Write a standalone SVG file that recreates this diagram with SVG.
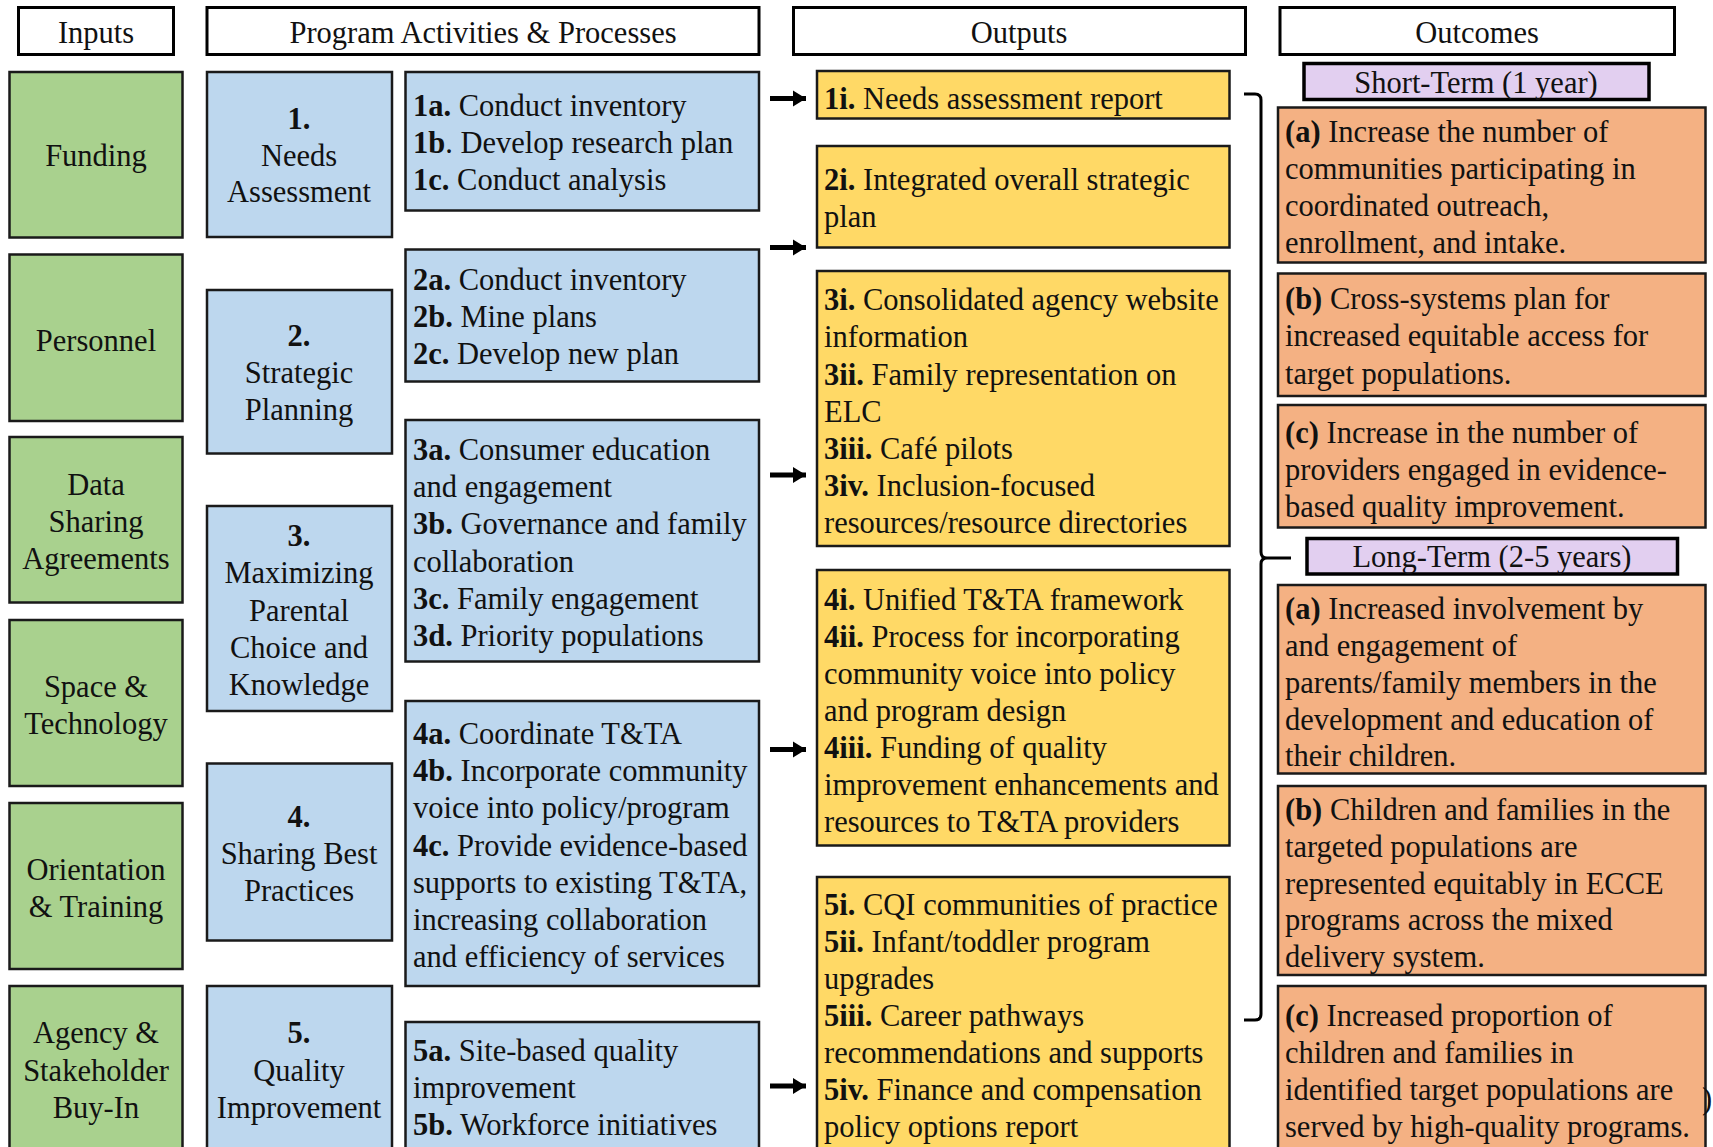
<svg xmlns="http://www.w3.org/2000/svg" width="1713" height="1147" viewBox="0 0 1713 1147">
<style>
.hdr{fill:#fff;stroke:#000;stroke-width:3}
.inp{fill:#A9D18E;stroke:#1a1a1a;stroke-width:2.5}
.act{fill:#BDD7EE;stroke:#1a1a1a;stroke-width:2.5}
.out{fill:#FFD966;stroke:#1a1a1a;stroke-width:2.5}
.oc{fill:#F4B183;stroke:#1a1a1a;stroke-width:2.5}
.term{fill:#E2CFF0;stroke:#000;stroke-width:3.5}
text{font-family:"Liberation Serif","Times New Roman",serif;font-size:30.5px;fill:#111;transform:translate(0px,2px)}
.c{text-anchor:middle}
.b{font-weight:bold}
.conn{fill:none;stroke:#000}
</style>
<defs>
<marker id="ah" markerUnits="userSpaceOnUse" markerWidth="16" markerHeight="18" refX="13" refY="9" orient="auto">
<path d="M0,1 L13,9 L0,17 Z" fill="#000"/>
</marker>
</defs>
<rect width="1713" height="1147" fill="#fff"/>

<!-- Headers -->
<g id="hdr-inputs"><rect class="hdr" x="18.5" y="7.5" width="155" height="47"/><text class="c" x="96" y="41">Inputs</text></g>
<g id="hdr-activities"><rect class="hdr" x="207" y="7.5" width="552" height="47"/><text class="c" x="483" y="41">Program Activities  &amp; Processes</text></g>
<g id="hdr-outputs"><rect class="hdr" x="793.5" y="7.5" width="452" height="47"/><text class="c" x="1019" y="41">Outputs</text></g>
<g id="hdr-outcomes"><rect class="hdr" x="1280" y="7.5" width="394.5" height="47"/><text class="c" x="1477" y="41">Outcomes</text></g>

<!-- Inputs -->
<g id="in-funding"><rect class="inp" x="9.5" y="72" width="173" height="165.5"/><text class="c" x="96" y="164">Funding</text></g>
<g id="in-personnel"><rect class="inp" x="9.5" y="254.5" width="173" height="166.5"/><text class="c" x="96" y="349">Personnel</text></g>
<g id="in-data"><rect class="inp" x="9.5" y="437" width="173" height="165.5"/><text class="c"><tspan x="96" y="493">Data</tspan><tspan x="96" y="530">Sharing</tspan><tspan x="96" y="567">Agreements</tspan></text></g>
<g id="in-space"><rect class="inp" x="9.5" y="620" width="173" height="166"/><text class="c"><tspan x="96" y="695">Space &amp;</tspan><tspan x="96" y="732">Technology</tspan></text></g>
<g id="in-orientation"><rect class="inp" x="9.5" y="803" width="173" height="166"/><text class="c"><tspan x="96" y="878">Orientation</tspan><tspan x="96" y="915">&amp; Training</tspan></text></g>
<g id="in-agency"><rect class="inp" x="9.5" y="986" width="173" height="180"/><text class="c"><tspan x="96" y="1041">Agency &amp;</tspan><tspan x="96" y="1079">Stakeholder</tspan><tspan x="96" y="1116">Buy-In</tspan></text></g>

<!-- Activities -->
<g id="act-1"><rect class="act" x="207" y="72" width="185" height="165"/><text class="c"><tspan class="b" x="299" y="127">1.</tspan><tspan x="299" y="164">Needs</tspan><tspan x="299" y="200">Assessment</tspan></text></g>
<g id="act-2"><rect class="act" x="207" y="290" width="185" height="163.5"/><text class="c"><tspan class="b" x="299" y="344">2.</tspan><tspan x="299" y="381">Strategic</tspan><tspan x="299" y="418">Planning</tspan></text></g>
<g id="act-3"><rect class="act" x="207" y="506" width="185" height="205"/><text class="c"><tspan class="b" x="299" y="544">3.</tspan><tspan x="299" y="581">Maximizing</tspan><tspan x="299" y="618.5">Parental</tspan><tspan x="299" y="656">Choice and</tspan><tspan x="299" y="693">Knowledge</tspan></text></g>
<g id="act-4"><rect class="act" x="207" y="763.5" width="185" height="177"/><text class="c"><tspan class="b" x="299" y="825">4.</tspan><tspan x="299" y="862">Sharing Best</tspan><tspan x="299" y="899">Practices</tspan></text></g>
<g id="act-5"><rect class="act" x="207" y="986" width="185" height="180"/><text class="c"><tspan class="b" x="299" y="1041">5.</tspan><tspan x="299" y="1079">Quality</tspan><tspan x="299" y="1116">Improvement</tspan></text></g>

<!-- Sub-activities -->
<g id="sub-1"><rect class="act" x="405.5" y="72" width="353.5" height="138.5"/><text>
<tspan x="413" y="114"><tspan class="b">1a.</tspan> Conduct inventory</tspan>
<tspan x="413" y="151"><tspan class="b">1b</tspan>. Develop research plan</tspan>
<tspan x="413" y="188"><tspan class="b">1c.</tspan> Conduct analysis</tspan></text></g>
<g id="sub-2"><rect class="act" x="405.5" y="249.5" width="353.5" height="132"/><text>
<tspan x="413" y="288"><tspan class="b">2a.</tspan> Conduct inventory</tspan>
<tspan x="413" y="325"><tspan class="b">2b.</tspan> Mine plans</tspan>
<tspan x="413" y="362"><tspan class="b">2c.</tspan> Develop new plan</tspan></text></g>
<g id="sub-3"><rect class="act" x="405.5" y="420" width="353.5" height="241.5"/><text>
<tspan x="413" y="458"><tspan class="b">3a.</tspan> Consumer education</tspan>
<tspan x="413" y="495">and engagement</tspan>
<tspan x="413" y="532"><tspan class="b">3b.</tspan> Governance and family</tspan>
<tspan x="413" y="569.5">collaboration</tspan>
<tspan x="413" y="606.5"><tspan class="b">3c.</tspan> Family engagement</tspan>
<tspan x="413" y="643.5"><tspan class="b">3d.</tspan> Priority populations</tspan></text></g>
<g id="sub-4"><rect class="act" x="405.5" y="701" width="353.5" height="285"/><text>
<tspan x="413" y="742"><tspan class="b">4a.</tspan> Coordinate T&amp;TA</tspan>
<tspan x="413" y="779"><tspan class="b">4b.</tspan> Incorporate community</tspan>
<tspan x="413" y="816">voice into policy/program</tspan>
<tspan x="413" y="853.5"><tspan class="b">4c.</tspan> Provide evidence-based</tspan>
<tspan x="413" y="890.5">supports to existing T&amp;TA,</tspan>
<tspan x="413" y="927.5">increasing collaboration</tspan>
<tspan x="413" y="965">and efficiency of services</tspan></text></g>
<g id="sub-5"><rect class="act" x="405.5" y="1022" width="353.5" height="150"/><text>
<tspan x="413" y="1059"><tspan class="b">5a.</tspan> Site-based quality</tspan>
<tspan x="413" y="1096">improvement</tspan>
<tspan x="413" y="1133"><tspan class="b">5b.</tspan> Workforce initiatives</tspan></text></g>

<!-- Outputs -->
<g id="out-1"><rect class="out" x="817" y="71" width="412.5" height="47.5"/><text><tspan x="824" y="107"><tspan class="b">1i.</tspan> Needs assessment report</tspan></text></g>
<g id="out-2"><rect class="out" x="817" y="146" width="412.5" height="101.5"/><text>
<tspan x="824" y="188"><tspan class="b">2i.</tspan> Integrated overall  strategic</tspan>
<tspan x="824" y="225">plan</tspan></text></g>
<g id="out-3"><rect class="out" x="817" y="271" width="412.5" height="275"/><text>
<tspan x="824" y="308"><tspan class="b">3i.</tspan> Consolidated agency website</tspan>
<tspan x="824" y="345">information</tspan>
<tspan x="824" y="382.5"><tspan class="b">3ii.</tspan> Family representation on</tspan>
<tspan x="824" y="419.5">ELC</tspan>
<tspan x="824" y="456.5"><tspan class="b">3iii.</tspan> Café pilots</tspan>
<tspan x="824" y="494"><tspan class="b">3iv.</tspan> Inclusion-focused</tspan>
<tspan x="824" y="530.5">resources/resource directories</tspan></text></g>
<g id="out-4"><rect class="out" x="817" y="570" width="412.5" height="275.5"/><text>
<tspan x="824" y="608"><tspan class="b">4i.</tspan> Unified T&amp;TA  framework</tspan>
<tspan x="824" y="645"><tspan class="b">4ii.</tspan> Process for incorporating</tspan>
<tspan x="824" y="682">community voice into policy</tspan>
<tspan x="824" y="719">and program design</tspan>
<tspan x="824" y="756"><tspan class="b">4iii.</tspan> Funding of quality</tspan>
<tspan x="824" y="793">improvement enhancements and</tspan>
<tspan x="824" y="830">resources to T&amp;TA providers</tspan></text></g>
<g id="out-5"><rect class="out" x="817" y="877" width="412.5" height="290"/><text>
<tspan x="824" y="912.5"><tspan class="b">5i.</tspan> CQI communities of practice</tspan>
<tspan x="824" y="949.5"><tspan class="b">5ii.</tspan> Infant/toddler program</tspan>
<tspan x="824" y="987">upgrades</tspan>
<tspan x="824" y="1024"><tspan class="b">5iii.</tspan> Career pathways</tspan>
<tspan x="824" y="1061">recommendations and supports</tspan>
<tspan x="824" y="1098"><tspan class="b">5iv.</tspan> Finance and compensation</tspan>
<tspan x="824" y="1134.5">policy options report</tspan></text></g>

<!-- Outcomes -->
<g id="term-short"><rect class="term" x="1304" y="63.5" width="345" height="36"/><text class="c" x="1476" y="91">Short-Term (1 year)</text></g>
<g id="oc-short-a"><rect class="oc" x="1278" y="107.5" width="427.5" height="155"/><text>
<tspan x="1285" y="140"><tspan class="b">(a)</tspan> Increase the number of</tspan>
<tspan x="1285" y="177">communities participating  in</tspan>
<tspan x="1285" y="214">coordinated outreach,</tspan>
<tspan x="1285" y="251">enrollment, and intake.</tspan></text></g>
<g id="oc-short-b"><rect class="oc" x="1278" y="273.5" width="427.5" height="122.5"/><text>
<tspan x="1285" y="307"><tspan class="b">(b)</tspan> Cross-systems plan for</tspan>
<tspan x="1285" y="344">increased equitable access for</tspan>
<tspan x="1285" y="381.5">target populations.</tspan></text></g>
<g id="oc-short-c"><rect class="oc" x="1278" y="405" width="427.5" height="122.5"/><text>
<tspan x="1285" y="440.5"><tspan class="b">(c)</tspan> Increase in the number of</tspan>
<tspan x="1285" y="477.5">providers engaged in evidence-</tspan>
<tspan x="1285" y="515">based quality improvement.</tspan></text></g>
<g id="term-long"><rect class="term" x="1307" y="538.5" width="370.5" height="35.5"/><text class="c" x="1492" y="565">Long-Term (2-5 years)</text></g>
<g id="oc-long-a"><rect class="oc" x="1278" y="585" width="427.5" height="188.5"/><text>
<tspan x="1285" y="616.5"><tspan class="b">(a)</tspan> Increased involvement by</tspan>
<tspan x="1285" y="653.5">and engagement of</tspan>
<tspan x="1285" y="690.5">parents/family members in the</tspan>
<tspan x="1285" y="728">development and education of</tspan>
<tspan x="1285" y="764">their children.</tspan></text></g>
<g id="oc-long-b"><rect class="oc" x="1278" y="786" width="427.5" height="189"/><text>
<tspan x="1285" y="817.5"><tspan class="b">(b)</tspan> Children and families  in the</tspan>
<tspan x="1285" y="854.5">targeted populations are</tspan>
<tspan x="1285" y="891.5">represented equitably in ECCE</tspan>
<tspan x="1285" y="928">programs across the mixed</tspan>
<tspan x="1285" y="965">delivery  system.</tspan></text></g>
<g id="oc-long-c"><rect class="oc" x="1278" y="986" width="427.5" height="180"/><text>
<tspan x="1285" y="1024"><tspan class="b">(c)</tspan> Increased proportion of</tspan>
<tspan x="1285" y="1061">children and families  in</tspan>
<tspan x="1285" y="1098">identified  target populations are</tspan>
<tspan x="1285" y="1134.5">served by high-quality  programs.</tspan></text></g>
<text x="1702" y="1107">)</text>

<!-- Connectors -->
<g id="connectors">
<g stroke="#000" stroke-width="5" fill="none" marker-end="url(#ah)">
<line x1="770" y1="98.5" x2="806" y2="98.5"/>
<line x1="770" y1="247.5" x2="806" y2="247.5"/>
<line x1="770" y1="475" x2="806" y2="475"/>
<line x1="770" y1="749.5" x2="806" y2="749.5"/>
<line x1="770" y1="1086" x2="806" y2="1086"/>
</g>
<path class="conn" stroke-width="3" d="M1244,94 H1255 Q1261,94 1261,100 V552 Q1261,558 1267,558 H1291 M1267,558 Q1261,558 1261,564 V1014 Q1261,1020 1255,1020 H1244"/>
</g>
</svg>
